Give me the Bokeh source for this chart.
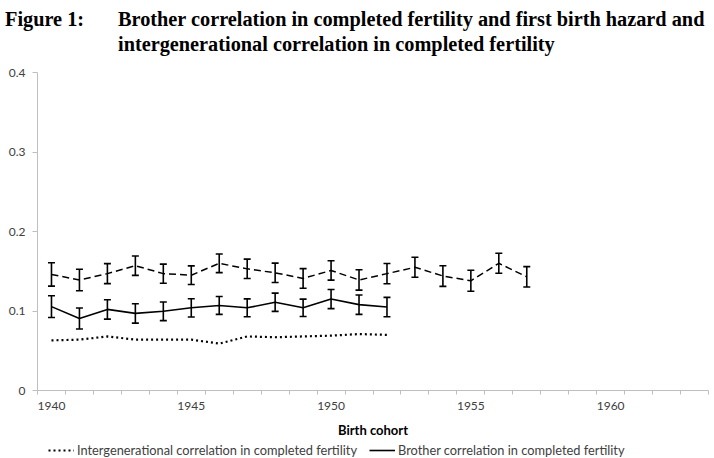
from bokeh.plotting import figure
from bokeh.models import (ColumnDataSource, Range1d, FixedTicker, CustomJSTickFormatter,
                          Whisker, TeeHead, Legend, LegendItem, Div)
from bokeh.layouts import column
from bokeh.embed import file_html
from bokeh.resources import INLINE

# Birth cohorts shown on the axis (one category per year)
cohorts_all = list(range(1940, 1964))
tick_years = [1940, 1945, 1950, 1955, 1960]

# Brother correlation in first birth hazard (dashed, with 95% bands)
fbh_years = list(range(1940, 1958))
fbh_corr = [0.146, 0.139, 0.147, 0.157, 0.147, 0.145, 0.160, 0.153, 0.148,
            0.141, 0.151, 0.139, 0.147, 0.155, 0.144, 0.138, 0.160, 0.143]
fbh_err = [0.0147, 0.0136, 0.0126, 0.0122, 0.0120, 0.0117, 0.0117, 0.0122, 0.0122,
           0.0123, 0.0122, 0.0128, 0.0128, 0.0126, 0.0130, 0.0132, 0.0126, 0.0128]

# Brother correlation in completed fertility (solid, with 95% bands)
cf_years = list(range(1940, 1953))
cf_corr = [0.1055, 0.0905, 0.102, 0.097, 0.0996, 0.104, 0.107, 0.104, 0.111,
           0.104, 0.115, 0.108, 0.105]
cf_err = [0.0136, 0.0132, 0.0122, 0.0122, 0.0117, 0.0115, 0.0113, 0.0113, 0.0115,
          0.0110, 0.0120, 0.0122, 0.0122]

# Intergenerational correlation in completed fertility (dotted)
ig_years = list(range(1940, 1953))
ig_corr = [0.063, 0.064, 0.068, 0.064, 0.064, 0.064, 0.059, 0.068, 0.067,
           0.068, 0.069, 0.071, 0.070]

fig_number = "Figure 1:"
title_line1 = "Brother correlation in completed fertility and first birth hazard and"
title_line2 = "intergenerational correlation in completed fertility"
ig_label = "Intergenerational correlation in completed fertility"
cf_label = "Brother correlation in completed fertility"

fbh_src = ColumnDataSource(dict(
    x=fbh_years, y=fbh_corr,
    lower=[v - e for v, e in zip(fbh_corr, fbh_err)],
    upper=[v + e for v, e in zip(fbh_corr, fbh_err)]))
cf_src = ColumnDataSource(dict(
    x=cf_years, y=cf_corr,
    lower=[v - e for v, e in zip(cf_corr, cf_err)],
    upper=[v + e for v, e in zip(cf_corr, cf_err)]))
ig_src = ColumnDataSource(dict(x=ig_years, y=ig_corr))

# Heading: figure number, then the caption with a hanging indent
heading = Div(
    text=(
        '<div style="position:relative;width:714px;height:58px;'
        "font-family:'Liberation Serif';font-weight:bold;font-size:20.3px;"
        'line-height:24.7px;color:#000;">'
        f'<div style="position:absolute;left:5px;top:6.8px;white-space:nowrap;">{fig_number}</div>'
        '<div style="position:absolute;left:118px;top:6.8px;white-space:nowrap;">'
        f'{title_line1}<br>{title_line2}</div></div>'
    ),
    width=714, height=58, margin=0,
)

p = figure(width=714, height=384, output_backend="svg", toolbar_location=None,
           x_range=Range1d(cohorts_all[0] - 0.5, cohorts_all[-1] + 0.5),
           y_range=Range1d(0, 0.4), title=None,
           min_border_left=37, min_border_right=6, min_border_top=14,
           min_border_bottom=52)
p.outline_line_color = None
p.grid.visible = False
p.background_fill_color = "white"
p.border_fill_color = "white"

axis_gray = "#bfbfbf"
label_gray = "#404040"

# X axis: labels every fifth cohort, small ticks between categories
p.xaxis.ticker = FixedTicker(ticks=tick_years,
                             minor_ticks=[c - 0.5 for c in cohorts_all] + [cohorts_all[-1] + 0.5])
p.xaxis.formatter = CustomJSTickFormatter(code="return tick.toFixed(0);")
p.xaxis.major_tick_out = 0
p.xaxis.major_tick_in = 0
p.xaxis.minor_tick_out = 4
p.xaxis.minor_tick_in = 0
p.xaxis.minor_tick_line_color = axis_gray
p.xaxis.axis_line_color = axis_gray
p.xaxis.major_label_text_font = "Lato"
p.xaxis.major_label_text_font_size = "12px"
p.xaxis.major_label_text_color = label_gray
p.xaxis.major_label_standoff = 7
p.xaxis.axis_label = "Birth cohort"
p.xaxis.axis_label_text_font = "Lato"
p.xaxis.axis_label_text_font_style = "bold"
p.xaxis.axis_label_text_font_size = "13px"
p.xaxis.axis_label_text_color = "#000000"
p.xaxis.axis_label_standoff = 9

# Y axis
p.yaxis.ticker = FixedTicker(ticks=[0, 0.1, 0.2, 0.3, 0.4])
p.yaxis.formatter = CustomJSTickFormatter(code="return tick == 0 ? '0' : tick.toFixed(1);")
p.yaxis.major_tick_out = 5
p.yaxis.major_tick_in = 0
p.yaxis.minor_tick_out = 0
p.yaxis.minor_tick_in = 0
p.yaxis.major_tick_line_color = axis_gray
p.yaxis.axis_line_color = axis_gray
p.yaxis.major_label_text_font = "Lato"
p.yaxis.major_label_text_font_size = "12px"
p.yaxis.major_label_text_color = label_gray
p.yaxis.major_label_standoff = 7

# Series styles
fbh_style = dict(line_color="black", line_width=1.5, line_dash="7 4")
cf_style = dict(line_color="black", line_width=1.6)
ig_style = dict(line_color="black", line_width=2.2, line_dash="2 3")

p.line("x", "y", source=fbh_src, **fbh_style)
p.line("x", "y", source=cf_src, **cf_style)
p.line("x", "y", source=ig_src, **ig_style)

for src in (fbh_src, cf_src):
    p.add_layout(Whisker(source=src, base="x", upper="upper", lower="lower",
                         line_color="black", line_width=1.6,
                         upper_head=TeeHead(size=7, line_color="black", line_width=1.6),
                         lower_head=TeeHead(size=7, line_color="black", line_width=1.6)))

# Legend strip beneath the chart; its lines sit outside the strip's view and
# only supply the key samples
key = figure(width=714, height=16, output_backend="svg", toolbar_location=None,
             x_range=Range1d(0, 1), y_range=Range1d(0, 1),
             x_axis_location=None, y_axis_location=None,
             min_border=0, min_border_left=0, min_border_right=0,
             min_border_top=0, min_border_bottom=0)
key.outline_line_color = None
key.grid.visible = False
key.border_fill_color = "white"
key.background_fill_color = "white"
ig_key = key.line("x", "y", source=ig_src, **ig_style)
cf_key = key.line("x", "y", source=cf_src, **cf_style)

legend = Legend(items=[
    LegendItem(label=ig_label, renderers=[ig_key]),
    LegendItem(label=cf_label, renderers=[cf_key]),
], orientation="horizontal", location=(11, 0), padding=0, margin=0, spacing=12,
    glyph_width=26, glyph_height=14, label_height=14, label_standoff=3,
    label_text_font="Lato", label_text_font_size="12.8px", label_text_color=label_gray,
    border_line_color=None, background_fill_alpha=0)
key.add_layout(legend)

layout = column(heading, p, key, spacing=0)

open("out.html", "w").write(file_html(layout, INLINE))
